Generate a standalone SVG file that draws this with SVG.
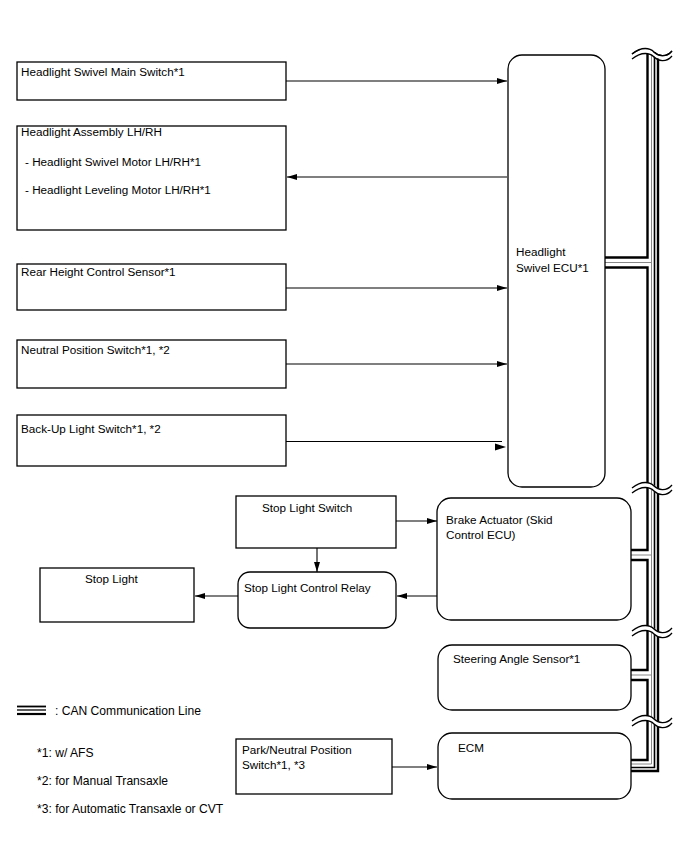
<svg xmlns="http://www.w3.org/2000/svg" xmlns:xlink="http://www.w3.org/1999/xlink" width="688" height="852" viewBox="0 0 688 852">
<style>
text{font-family:"Liberation Sans",Arial,sans-serif;font-size:11.7px;fill:#000}
.leg{font-size:12.1px}
.box{fill:#fff;stroke:#000;stroke-width:1.3}
.conn{stroke:#000;stroke-width:1.1;fill:none}
.bk{stroke:#000;fill:none;stroke-width:2.4}
.bk1{stroke:#000;fill:none;stroke-width:1.6}
.gr{stroke:#888;fill:none;stroke-width:1}
.wmask{stroke:#fff;stroke-width:5;fill:none}
.wline{stroke:#000;stroke-width:1.3;fill:none}
</style>
<defs>
<marker id="ah" viewBox="0 0 10 6" refX="10" refY="3" markerWidth="10" markerHeight="6" markerUnits="userSpaceOnUse" orient="auto">
<path d="M0,0 L10,3 L0,6 Z" fill="#000"/>
</marker>
<path id="wave" d="M632,4 C642,-4 650,-2 654,2 S666,8 672,1"/>
</defs>
<rect width="688" height="852" fill="#fff"/>

<g id="can-bus">
<path class="bk" d="M605,257.5 H647.5 V54"/>
<path class="bk" d="M605,267.5 H647.5 V550 H631"/>
<path class="bk" d="M631,560 H647.5 V670 H631"/>
<path class="bk" d="M631,680 H647.5 V760 H631"/>
<path class="gr" d="M605,262.5 H651.5"/>
<path class="gr" d="M631,555 H651.5"/>
<path class="gr" d="M631,675 H651.5"/>
<path class="gr" d="M651.5,54 V764 H631"/>
<path class="bk1" d="M654.5,54 V767.5 H631"/>
<path class="bk" d="M658,54 V771 H631"/>
<g transform="translate(0,50)"><use xlink:href="#wave" class="wmask" transform="translate(0,1)"/><use xlink:href="#wave" class="wline"/><use xlink:href="#wave" class="wline" transform="translate(0,5)"/></g>
<rect x="640" y="40" width="25" height="12" fill="#fff"/>
<g transform="translate(0,50)"><use xlink:href="#wave" class="wline"/></g>
<g transform="translate(0,484)"><use xlink:href="#wave" class="wmask" transform="translate(0,2.5)"/><use xlink:href="#wave" class="wline"/><use xlink:href="#wave" class="wline" transform="translate(0,5)"/></g>
<g transform="translate(0,627)"><use xlink:href="#wave" class="wmask" transform="translate(0,2.5)"/><use xlink:href="#wave" class="wline"/><use xlink:href="#wave" class="wline" transform="translate(0,5)"/></g>
<g transform="translate(0,717)"><use xlink:href="#wave" class="wmask" transform="translate(0,2.5)"/><use xlink:href="#wave" class="wline"/><use xlink:href="#wave" class="wline" transform="translate(0,5)"/></g>
</g>

<g id="connectors">
<line class="conn" x1="286" y1="81" x2="507" y2="81" marker-end="url(#ah)"/>
<line class="conn" x1="507" y1="177" x2="287" y2="177" marker-end="url(#ah)"/>
<line class="conn" x1="286" y1="288" x2="507" y2="288" marker-end="url(#ah)"/>
<line class="conn" x1="286" y1="364" x2="507" y2="364" marker-end="url(#ah)"/>
<line class="conn" x1="286" y1="441.5" x2="502" y2="441.5"/>
<path d="M495,443.5 L506,447 L495,450.5 Z" fill="#000"/>
<line class="conn" x1="396" y1="521" x2="437" y2="521" marker-end="url(#ah)"/>
<line class="conn" x1="317" y1="548" x2="317" y2="572" marker-end="url(#ah)"/>
<line class="conn" x1="437" y1="596" x2="397" y2="596" marker-end="url(#ah)"/>
<line class="conn" x1="238" y1="596" x2="195" y2="596" marker-end="url(#ah)"/>
<line class="conn" x1="392" y1="767" x2="437" y2="767" marker-end="url(#ah)"/>
</g>

<g id="headlight-swivel-main-switch">
<rect class="box" x="17" y="62" width="269" height="38"/>
<text x="21" y="76">Headlight Swivel Main Switch*1</text>
</g>
<g id="headlight-assembly">
<rect class="box" x="17" y="126" width="269" height="104"/>
<text x="21" y="136">Headlight Assembly LH/RH</text>
<text x="25" y="166">- Headlight Swivel Motor LH/RH*1</text>
<text x="25" y="194">- Headlight Leveling Motor LH/RH*1</text>
</g>
<g id="rear-height-control-sensor">
<rect class="box" x="17" y="264" width="269" height="46"/>
<text x="21" y="276">Rear Height Control Sensor*1</text>
</g>
<g id="neutral-position-switch">
<rect class="box" x="17" y="340" width="269" height="48"/>
<text x="21" y="354">Neutral Position Switch*1, *2</text>
</g>
<g id="back-up-light-switch">
<rect class="box" x="17" y="415" width="269" height="51"/>
<text x="21" y="433">Back-Up Light Switch*1, *2</text>
</g>
<g id="headlight-swivel-ecu">
<rect class="box" x="508" y="55" width="97" height="432" rx="14"/>
<text x="516" y="256">Headlight</text>
<text x="516" y="272">Swivel ECU*1</text>
</g>
<g id="stop-light-switch">
<rect class="box" x="236" y="496" width="160" height="52"/>
<text x="262" y="512">Stop Light Switch</text>
</g>
<g id="brake-actuator">
<rect class="box" x="437" y="498" width="194" height="122" rx="14"/>
<text x="446" y="524">Brake Actuator (Skid</text>
<text x="446" y="539">Control ECU)</text>
</g>
<g id="stop-light-control-relay">
<rect class="box" x="238" y="572" width="158" height="56" rx="12"/>
<text x="244" y="592">Stop Light Control Relay</text>
</g>
<g id="stop-light">
<rect class="box" x="40" y="568" width="154" height="54"/>
<text x="85" y="583">Stop Light</text>
</g>
<g id="steering-angle-sensor">
<rect class="box" x="438" y="645" width="193" height="65" rx="14"/>
<text x="453" y="663">Steering Angle Sensor*1</text>
</g>
<g id="park-neutral-position-switch">
<rect class="box" x="236" y="739" width="156" height="55"/>
<text x="242" y="754">Park/Neutral Position</text>
<text x="242" y="769">Switch*1, *3</text>
</g>
<g id="ecm">
<rect class="box" x="438" y="733" width="193" height="66" rx="14"/>
<text x="458" y="752">ECM</text>
</g>

<g id="legend">
<line x1="17" y1="706.5" x2="46" y2="706.5" stroke="#000" stroke-width="1.8"/>
<line x1="17" y1="710" x2="46" y2="710" stroke="#000" stroke-width="1.3"/>
<line x1="17" y1="714" x2="46" y2="714" stroke="#000" stroke-width="2.2"/>
<text class="leg" x="55" y="715">: CAN Communication Line</text>
<text class="leg" x="37" y="757">*1: w/ AFS</text>
<text class="leg" x="37" y="785">*2: for Manual Transaxle</text>
<text class="leg" x="37" y="813">*3: for Automatic Transaxle or CVT</text>
</g>
</svg>
